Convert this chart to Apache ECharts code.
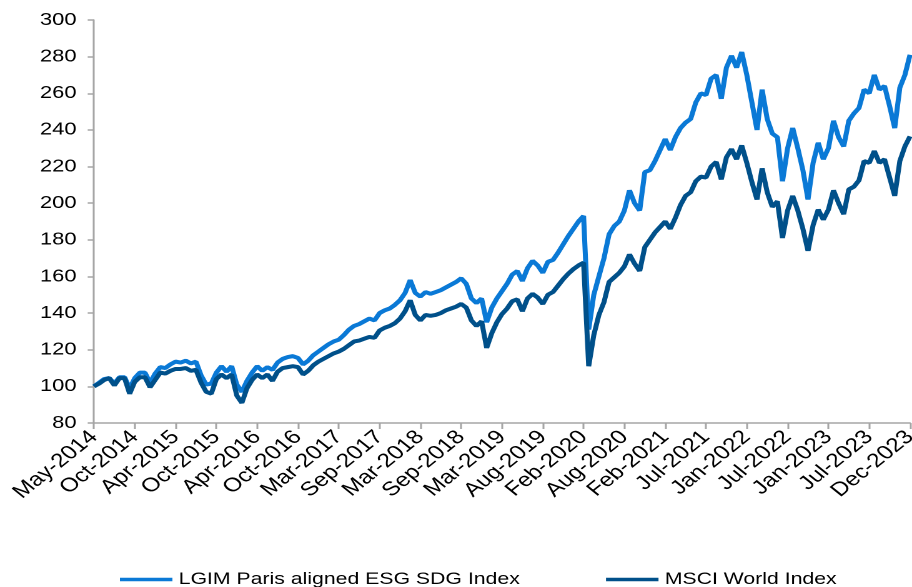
<!DOCTYPE html>
<html>
<head>
<meta charset="utf-8">
<script src="https://cdn.jsdelivr.net/npm/echarts@6/dist/echarts.min.js"></script>
<style>
html, body { margin: 0; padding: 0; background: #fff; overflow: hidden; }
#wrap { width: 912px; height: 587px; overflow: hidden; }
#chart { width: 730px; height: 587px; transform: scaleX(1.24932); transform-origin: 0 0; }
</style>
</head>
<body>
<div id="wrap"><div id="chart"></div></div>
<script>
// Tick labels (one every 8 points)
const tickLabels = ["May-2014","Oct-2014","Apr-2015","Oct-2015","Apr-2016","Oct-2016","Mar-2017","Sep-2017","Mar-2018","Sep-2018","Mar-2019","Aug-2019","Feb-2020","Aug-2020","Feb-2021","Jul-2021","Jan-2022","Jul-2022","Jan-2023","Jul-2023","Dec-2023"];
const pointsPerTick = 8;

const seriesNames = ["LGIM Paris aligned ESG SDG Index", "MSCI World Index"];

const lgim = [
100,102,104,104.5,101.5,105,105,99,104.5,107.5,
107.5,102,107,110.5,110,112,113.5,113,114,112.5,
113.5,106,101,101.5,107.5,111,108,111,101,97,
103,107.5,111,108.5,110.5,109,113,115,116,116.5,
115.5,112,114,117,119,121,123,124.5,125.5,128,
131,133,134,135.5,137,136,140,141.5,142.5,144.5,
147,151,158,151,149,151.5,150.5,151.5,152.5,154,
155.5,157,159,156,148,145.5,148,135,143,148,
152,156,161,163,157.5,164.5,168.5,166,162,168,
169,173,177.5,182,186,190,193,131,150,160,
170,183,187.5,190,196,207,200,196,217,218,
223,229,235,229,236,241,244,246,255,260,
259,268,270,257,274,280.5,274,282.5,270,255,
240,262,246,238,236,212,230,241,230,218,
202,222,233,224,230,245,236,231,245,249,
252,262,260,270,262,264,253,241,263,270,
281
];

const msci = [
100,101.5,103.5,104.5,100.5,104.5,104.5,96,102.5,105,
105,99.5,103.5,107.5,107,108.5,109.5,109.5,110,108.5,
109,102,97,96,104,106.5,104.5,106.5,95,91,
99,103.5,106.5,104.5,106.5,103,108,110,110.5,111,
110.5,106.5,108.5,111.5,113.5,115,116.5,118,119,120.5,
122.5,124.5,125,126,127,126.5,130.5,132,133,134.5,
137,141,147,139,136,139,138.5,139,140,141.5,
142.5,143.5,145,143,136,133,135.5,121,129,135,
139.5,142.5,146.5,147.5,141,148,150.5,148.5,145,150,
151.5,155,158.5,161.5,164,166,167.5,111,128,139,
146,157,159.5,162,165.5,172,167,163,176,180,
184,187,190,186,192,199,204,206,212,214.5,
214,220,222.5,213,225,229.5,224,231.5,222,211.5,
202,219,206,198,201,181,196,204,196,186,
174,188,196.5,191,196.5,207,200,194,207.5,209,
212.5,223,222,228.5,222,224,214,204,223,231,
236.5
];

const categories = lgim.map((_, i) => String(i));
const font = "'Liberation Sans', Arial, sans-serif";
const chart = echarts.init(document.getElementById('chart'), null, { renderer: 'canvas', devicePixelRatio: 2 });

chart.setOption({
  animation: false,
  backgroundColor: '#ffffff',
  grid: { left: 75.2, right: 1.6, top: 20, bottom: 164, containLabel: false, outerBoundsMode: 'none' },
  legend: {
    data: seriesNames.map(n => ({ name: n, icon: 'rect' })),
    left: 91,
    top: 566,
    padding: [5, 5, 5, 5],
    itemWidth: 42,
    itemHeight: 3.5,
    itemGap: 69,
    textStyle: { fontSize: 17, color: '#000', fontFamily: font }
  },
  xAxis: {
    type: 'category',
    data: categories,
    boundaryGap: false,
    axisLine: { lineStyle: { color: '#a6a6a6', width: 1.5 } },
    axisTick: { show: true, interval: pointsPerTick - 1, length: 6, lineStyle: { color: '#a6a6a6', width: 1.5 } },
    axisLabel: {
      interval: pointsPerTick - 1,
      rotate: 45,
      margin: 11,
      fontSize: 19.5,
      color: '#000',
      fontFamily: font,
      formatter: (v, idx) => (idx % pointsPerTick === 0 ? tickLabels[idx / pointsPerTick] : '')
    },
    splitLine: { show: false }
  },
  yAxis: {
    type: 'value',
    min: 80,
    max: 300,
    interval: 20,
    axisLine: { show: true, lineStyle: { color: '#a6a6a6', width: 1.5 } },
    axisTick: { show: true, length: 5, lineStyle: { color: '#a6a6a6', width: 1.5 } },
    axisLabel: { fontSize: 17.5, color: '#000', fontFamily: font, margin: 14 },
    splitLine: { show: false }
  },
  series: [
    {
      name: seriesNames[0], type: 'line', data: lgim, symbol: 'none',
      lineStyle: { color: '#0a79d6', width: 4 }, itemStyle: { color: '#0a79d6' }
    },
    {
      name: seriesNames[1], type: 'line', data: msci, symbol: 'none',
      lineStyle: { color: '#00508a', width: 4 }, itemStyle: { color: '#00508a' }
    }
  ]
});
</script>
</body>
</html>
